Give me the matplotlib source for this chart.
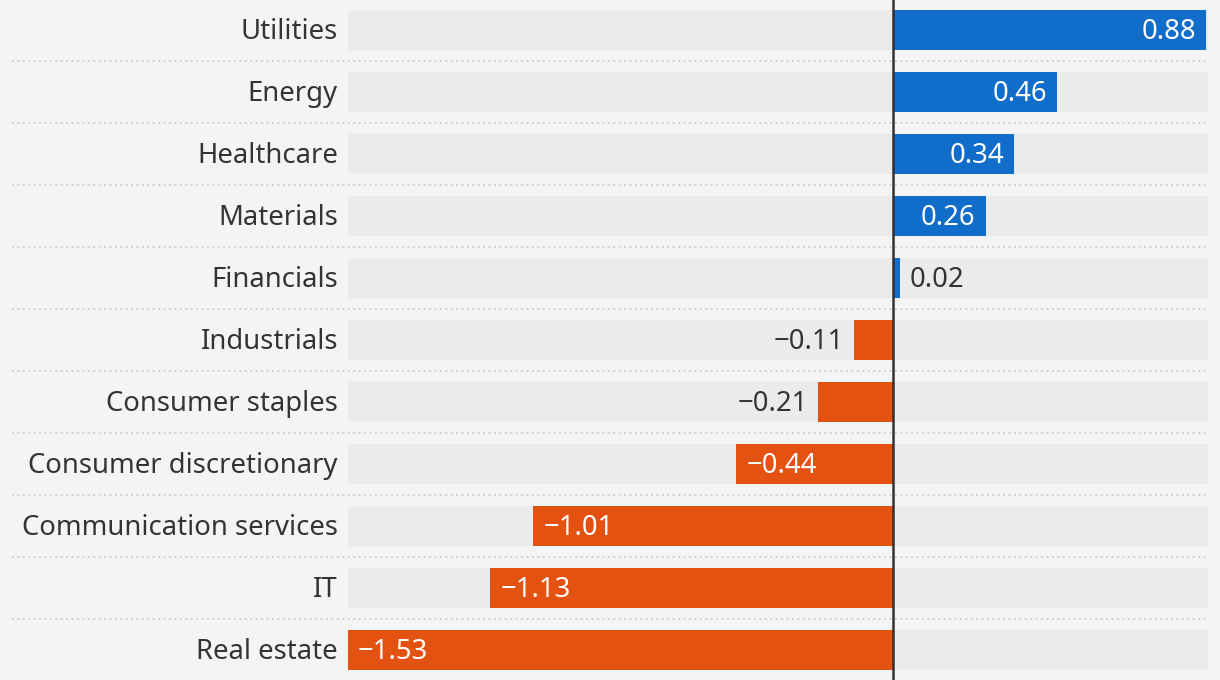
import matplotlib
matplotlib.use('Agg')
import matplotlib.pyplot as plt
from matplotlib.lines import Line2D

# Sektorer och värden (uppifrån och ned)
sectors = ['Utilities', 'Energy', 'Healthcare', 'Materials', 'Financials',
           'Industrials', 'Consumer staples', 'Consumer discretionary',
           'Communication services', 'IT', 'Real estate']
values = [0.88, 0.46, 0.34, 0.26, 0.02, -0.11, -0.21, -0.44, -1.01, -1.13, -1.53]

BLUE = '#106eca'
ORANGE = '#e35210'
BG = '#f4f4f4'
TRACK = '#ebebeb'
TEXT = '#333333'
FONT = 'Noto Sans'
FS = 19.8
DY = -2  # liten nedflyttning av texten

W, H = 1220, 680
fig = plt.figure(figsize=(W / 100, H / 100), dpi=100)
fig.patch.set_facecolor(BG)

# Axlar: spåret går från pixel 348 till 1208
ax_left, ax_right = 348, 1208
ax = fig.add_axes([ax_left / W, 0, (ax_right - ax_left) / W, 1])
ax.set_facecolor('none')

xmin = min(values)
zero_frac = 545 / 860  # nollinjens läge i axeln
xmax = -xmin * (1 - zero_frac) / zero_frac
ax.set_xlim(xmin, xmax)

n = len(sectors)
row_px = 62
ax.set_ylim((H - 30) / row_px, -30 / row_px)
bar_h = 40 / row_px

ys = list(range(n))
ax.barh(ys, [xmax - xmin] * n, left=xmin, height=bar_h, color=TRACK, zorder=1)
colors = [BLUE if v >= 0 else ORANGE for v in values]
ax.barh(ys, values, height=bar_h, color=colors, zorder=2)

# Nollinje
ax.axvline(0, color=TEXT, lw=1.8, zorder=4)

# Prickade avdelare, sträcker sig ut till vänster om axeln
for i in range(n - 1):
    y = i + 0.5
    yf = 1 - ((y * row_px + 30) / H)
    fig.add_artist(Line2D([12 / W, ax_right / W], [yf, yf], color='#cccccc',
                          lw=1.3, ls=(0, (1, 2)), zorder=0))

for i, (s, v) in enumerate(zip(sectors, values)):
    # kategorietikett
    ax.annotate(s, (xmin, i), xytext=(-10, DY), textcoords='offset pixels',
                ha='right', va='center', fontsize=FS, color=TEXT, family=FONT)
    lab = f'{v:.2f}'.replace('-', '\u2212')
    inside = abs(v) >= 0.25
    if v >= 0:
        if inside:
            ax.annotate(lab, (v, i), xytext=(-10, DY), textcoords='offset pixels',
                        ha='right', va='center', fontsize=FS, color='white', family=FONT, zorder=5)
        else:
            ax.annotate(lab, (v, i), xytext=(10, DY), textcoords='offset pixels',
                        ha='left', va='center', fontsize=FS, color=TEXT, family=FONT, zorder=5)
    else:
        if inside:
            ax.annotate(lab, (v, i), xytext=(10, DY), textcoords='offset pixels',
                        ha='left', va='center', fontsize=FS, color='white', family=FONT, zorder=5)
        else:
            ax.annotate(lab, (v, i), xytext=(-10, DY), textcoords='offset pixels',
                        ha='right', va='center', fontsize=FS, color=TEXT, family=FONT, zorder=5)

ax.axis('off')
fig.savefig('out.png', dpi=100, facecolor=BG)
